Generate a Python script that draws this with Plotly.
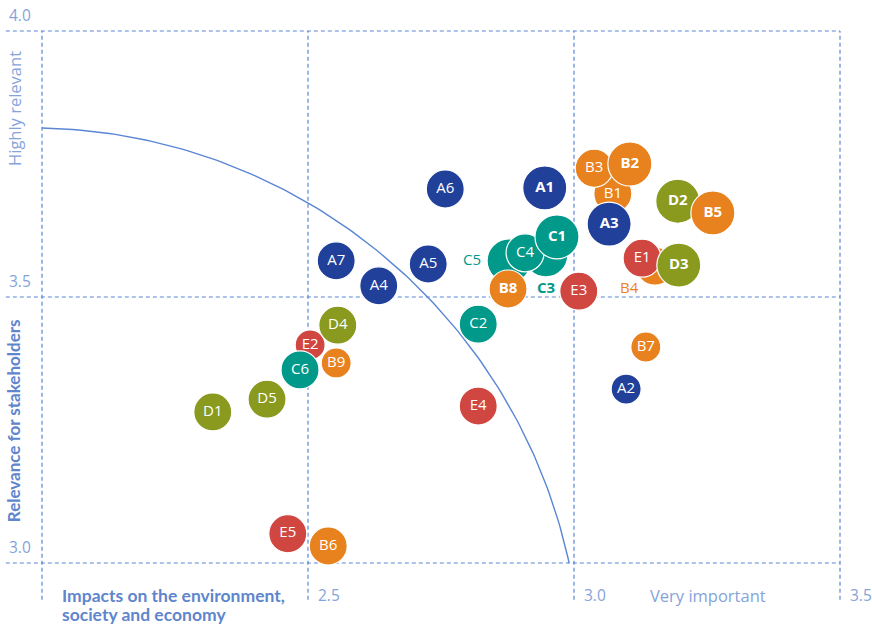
import math
import plotly.graph_objects as go

# Topics, listed in drawing order (later ones sit on top where bubbles overlap)
topics = ["B6", "E5", "D1", "D5", "E2", "C6", "B9", "D4", "A7", "A4", "A5", "A6",
          "E4", "C2", "C5", "C3", "C4", "C1", "B8", "E3", "A1", "B1", "B3", "B2",
          "A3", "B4", "E1", "D3", "D2", "B5", "B7", "A2"]
# Impacts on the environment, society and economy
impact = [2.538, 2.462, 2.321, 2.423, 2.504, 2.485, 2.553, 2.556, 2.553, 2.633, 2.726, 2.758,
          2.820, 2.820, 2.878, 2.947, 2.908, 2.968, 2.876, 3.009, 2.945, 3.073, 3.038, 3.105,
          3.066, 3.152, 3.128, 3.197, 3.195, 3.261, 3.135, 3.098]
# Relevance for stakeholders
relevance = [3.032, 3.055, 3.284, 3.308, 3.410, 3.363, 3.376, 3.447, 3.568, 3.521, 3.562, 3.703,
             3.295, 3.449, 3.568, 3.579, 3.583, 3.613, 3.515, 3.511, 3.705, 3.694, 3.742, 3.750,
             3.637, 3.558, 3.573, 3.560, 3.680, 3.658, 3.406, 3.327]
# Bubble size class (1 = small, 2 = medium, 3 = large)
tier = [2, 2, 2, 2, 1, 2, 1, 2, 2, 2, 2, 2,
        2, 2, 3, 3, 2, 3, 2, 2, 3, 2, 2, 3,
        3, 2, 2, 3, 3, 3, 1, 1]
emphasized = ["A1", "A3", "B2", "B5", "B8", "C1", "C3", "D2", "D3"]

x_ticks = [2.5, 3.0, 3.5]
y_ticks = [3.0, 3.5, 4.0]
x_grid = [2.0, 2.5, 3.0, 3.5]
y_grid = [3.0, 3.5, 4.0]
x_title_lines = ["Impacts on the environment,", "society and economy"]

group_colors = {"A": "#20409A", "B": "#E8821E", "C": "#00998A", "D": "#899A1F", "E": "#D04641"}
tier_px = {1: 30, 2: 38, 3: 44}
# labels of partly hidden bubbles are written beside them (pixel offset from the bubble centre)
outside_offset = {"C5": (-37, 2), "C3": (0, -32), "B4": (-25, -21)}

LINE = "#5B86D4"
TICK = "#86A3DA"
TITLE = "#5F85CC"
FONT = "Open Sans"
BOLD_FONT = "Lato"

colors = [group_colors[t[0]] for t in topics]
sizes = [tier_px[s] for s in tier]


def label(t):
    return f"<b>{t}</b>" if t in emphasized else t


texts = ["" if t in outside_offset else label(t) for t in topics]

fig = go.Figure()

# quarter-arc boundary of the materiality zone
cx, cy, r = 1.978, 2.782, 1.036
a0 = math.acos((2.0 - cx) / r)
a1 = math.asin((3.0 - cy) / r)
n = 120
arc_x, arc_y = [], []
for i in range(n + 1):
    a = a0 + (a1 - a0) * i / n
    arc_x.append(cx + r * math.cos(a))
    arc_y.append(cy + r * math.sin(a))
fig.add_trace(go.Scatter(x=arc_x, y=arc_y, mode="lines",
                         line=dict(color=LINE, width=1.4), hoverinfo="skip", showlegend=False))

fig.add_trace(go.Scatter(
    x=impact, y=relevance, mode="markers+text",
    text=texts, textposition="middle center",
    textfont=dict(family=FONT, size=15, color="white"),
    marker=dict(size=sizes, color=colors, opacity=1, line=dict(color="white", width=1.2)),
    hovertext=topics, hoverinfo="text", showlegend=False,
))

x_lo, x_hi = 1.92105, 3.56015
y_lo, y_hi = 2.88158, 4.05827

shapes = []
for gx in x_grid:
    shapes.append(dict(type="line", xref="x", yref="y", x0=gx, x1=gx, y0=2.931, y1=4.0,
                       line=dict(color=LINE, width=1.2, dash="4px,3px"), layer="below"))
for gy in y_grid:
    shapes.append(dict(type="line", xref="x", yref="y", x0=1.932, x1=3.5, y0=gy, y1=gy,
                       line=dict(color=LINE, width=1.2, dash="4px,3px"), layer="below"))

annotations = []
for t, xv, yv in zip(topics, impact, relevance):
    if t in outside_offset:
        dx, dy = outside_offset[t]
        annotations.append(dict(x=xv, y=yv, xref="x", yref="y", text=label(t), showarrow=False,
                                xanchor="center", yanchor="middle", xshift=dx, yshift=dy,
                                font=dict(family=FONT, size=15, color=group_colors[t[0]])))
for ty in y_ticks:
    annotations.append(dict(x=1.935, y=ty, xref="x", yref="y", text=f"{ty:.1f}",
                            showarrow=False, xanchor="left", yanchor="middle", yshift=16,
                            font=dict(family=FONT, size=15.5, color=TICK)))
for tx in x_ticks:
    annotations.append(dict(x=tx, y=2.9398, xref="x", yref="y", text=f"{tx:.1f}",
                            showarrow=False, xanchor="left", yanchor="middle", xshift=8,
                            font=dict(family=FONT, size=15.5, color=TICK)))
for i, line_text in enumerate(x_title_lines):
    annotations.append(dict(x=2.034, y=2.9398, xref="x", yref="y", text=f"<b>{line_text}</b>",
                            showarrow=False, xanchor="left", yanchor="middle", yshift=-19 * i,
                            font=dict(family=BOLD_FONT, size=17.5, color=TITLE)))
annotations += [
    dict(x=3.139, y=2.9398, xref="x", yref="y", text="Very important", showarrow=False,
         xanchor="left", yanchor="middle", font=dict(family=FONT, size=16.5, color=TICK)),
    dict(x=1.947, y=3.855, xref="x", yref="y", text="Highly relevant", showarrow=False,
         textangle=-90, xanchor="center", yanchor="middle",
         font=dict(family=FONT, size=16.5, color=TICK)),
    dict(x=1.947, y=3.268, xref="x", yref="y", text="<b>Relevance for stakeholders</b>",
         showarrow=False, textangle=-90, xanchor="center", yanchor="middle",
         font=dict(family=BOLD_FONT, size=17, color=TITLE)),
]

fig.update_layout(
    width=872, height=626, autosize=False,
    margin=dict(l=0, r=0, t=0, b=0),
    paper_bgcolor="white", plot_bgcolor="white",
    xaxis=dict(range=[x_lo, x_hi], visible=False, fixedrange=True),
    yaxis=dict(range=[y_lo, y_hi], visible=False, fixedrange=True),
    shapes=shapes, annotations=annotations,
    showlegend=False,
)

fig.write_html("out.html")
